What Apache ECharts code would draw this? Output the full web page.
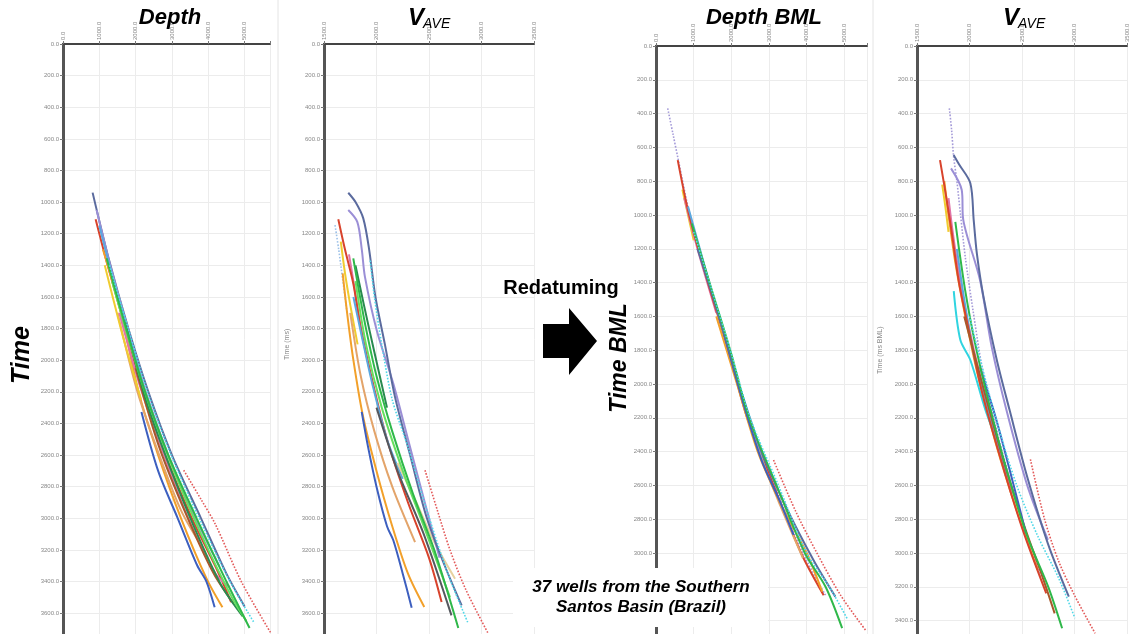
<!DOCTYPE html>
<html>
<head>
<meta charset="utf-8">
<script src="https://cdn.jsdelivr.net/npm/echarts@6/dist/echarts.min.js"></script>
<style>
  html, body { margin: 0; padding: 0; background: #fff; }
  #chart { width: 1137px; height: 634px; }
</style>
</head>
<body>
<div id="chart"></div>
<script>
// tick values of the four panels
const depthTicks = [0, 1000, 2000, 3000, 4000, 5000];
const vaveTicks = [1500, 2000, 2500, 3000, 3500];

// panel 1 : depth (m) vs time (ms)
const depthCurves = [
    ['A', [[815, 940], [1250, 1350], [1800, 1800], [2350, 2200], [3000, 2600], [3800, 3000], [4500, 3350], [5000, 3557]]],
    ['B', [[925, 1050], [1300, 1400], [1780, 1800], [2280, 2200], [2900, 2600], [3650, 3000], [4300, 3300]]],
    ['D', [[898, 1108], [1230, 1400], [1720, 1800], [2200, 2200], [2820, 2600], [3550, 3000], [4250, 3330], [4630, 3530]]],
    ['G', [[1100, 1300], [1600, 1700], [2080, 2200], [2620, 2600], [3250, 3000], [3950, 3380], [4390, 3563]]],
    ['J', [[1500, 1700], [2050, 2200], [2650, 2600], [3250, 2950], [3745, 3150]]],
    ['L', [[1150, 1400], [1650, 1850], [2150, 2250]]],
    ['O', [[1000, 1150], [1450, 1550], [1950, 1950], [2450, 2350], [2900, 2650]]],
    ['M', [[1550, 1700], [2100, 2150], [2750, 2580], [3450, 3000], [4200, 3350], [4590, 3435]]],
    ['S', [[2000, 2050], [2650, 2550], [3400, 2980], [4150, 3350], [4700, 3540]]],
    ['N', [[1700, 1750], [2280, 2250], [2900, 2650], [3600, 3050], [4350, 3420], [4950, 3620]]],
    ['R', [[1350, 1500], [1850, 1900], [2400, 2300], [3050, 2700], [3800, 3100], [4650, 3500], [5050, 3650]]],
    ['E', [[1200, 1355], [1740, 1800], [2260, 2200], [2900, 2600], [3680, 3000], [4500, 3400], [5137, 3694]]],
    ['F', [[1280, 1400], [1800, 1800], [2330, 2200], [2980, 2600], [3750, 3000], [4600, 3400], [5275, 3665]]],
    ['H', [[2160, 2327], [2620, 2700], [3160, 3000], [3700, 3300], [3950, 3400], [4176, 3563]]],
    ['I', [[3324, 2696], [3800, 2880], [4200, 3040], [4910, 3400], [5730, 3728]]]
];

// panel 2 : average velocity (m/s) vs time (ms)
const vaveCurves = [
    ['K', [[1605, 1146], [1640, 1300], [1680, 1500], [1720, 1700]]],
    ['L', [[1660, 1250], [1700, 1450], [1750, 1650], [1820, 1900]]],
    ['G', [[1678, 1451], [1720, 1700], [1780, 2000], [1870, 2350], [2000, 2700], [2150, 3050], [2300, 3350], [2455, 3561]]],
    ['J', [[1750, 1700], [1850, 2100], [1980, 2450], [2150, 2800], [2367, 3150]]],
    ['M', [[1738, 1331], [1780, 1500], [1840, 1750], [1930, 2050]]],
    ['D', [[1636, 1108], [1700, 1300], [1779, 1515], [1850, 1800], [1950, 2100], [2100, 2500], [2300, 2900], [2500, 3250], [2620, 3530]]],
    ['O', [[1780, 1600], [1860, 1850], [1960, 2150], [2100, 2500], [2250, 2750]]],
    ['N', [[1800, 1400], [1880, 1650], [1980, 1950], [2100, 2300]]],
    ['Q', [[2000, 2300], [2200, 2700], [2450, 3100], [2714, 3614]]],
    ['P', [[2200, 2650], [2380, 2900], [2550, 3150], [2748, 3382]]],
    ['R', [[1800, 1500], [1900, 1900], [2050, 2300], [2250, 2700], [2450, 3050], [2700, 3500]]],
    ['E', [[1779, 1356], [1830, 1550], [1900, 1800], [2000, 2100], [2150, 2450], [2350, 2850], [2550, 3200], [2779, 3694]]],
    ['B', [[1731, 1050], [1817, 1125], [1860, 1300], [1890, 1473], [2002, 1810], [2160, 2148], [2300, 2500], [2460, 2900], [2600, 3250]]],
    ['A', [[1731, 941], [1800, 1000], [1874, 1103], [1930, 1300], [1990, 1600], [2080, 1900], [2176, 2232], [2320, 2600], [2480, 3000], [2650, 3300], [2811, 3551]]],
    ['F', [[1940, 1370], [1980, 1600], [2050, 1900], [2150, 2250], [2300, 2550], [2480, 2950], [2680, 3350], [2874, 3666]]],
    ['H', [[1859, 2327], [1920, 2550], [2000, 2800], [2100, 3050], [2160, 3139], [2250, 3350], [2335, 3565]]],
    ['I', [[2462, 2696], [2580, 2950], [2700, 3200], [2850, 3450], [3065, 3730]]]
];

// panel 3 : depth below mudline (m) vs time below mudline (ms)
const depthBmlCurves = [
    ['C', [[311, 369], [450, 520], [593, 675], [900, 1000], [1400, 1400], [1950, 1800], [2450, 2200], [3150, 2600], [3900, 3000], [4500, 3250]]],
    ['L', [[700, 850], [800, 950], [1000, 1150]]],
    ['M', [[750, 900], [1100, 1200], [1600, 1580]]],
    ['D', [[577, 675], [880, 1000], [1380, 1400], [1920, 1800], [2420, 2200], [3120, 2600], [3850, 3000], [4450, 3250]]],
    ['O', [[850, 950], [1350, 1350], [1900, 1780], [2400, 2150], [2900, 2500]]],
    ['J', [[2100, 1950], [2700, 2380], [3300, 2720], [3900, 3030]]],
    ['G', [[1600, 1600], [2150, 2000], [2700, 2400], [3400, 2750], [4000, 3000], [4410, 3229]]],
    ['H', [[1800, 1700], [2300, 2100], [2800, 2450], [3300, 2700], [3650, 2893]]],
    ['A', [[1100, 1200], [1600, 1550], [2200, 2000], [2800, 2400], [3500, 2750], [4200, 3050], [4760, 3258]]],
    ['E', [[950, 1050], [1420, 1400], [1970, 1800], [2470, 2200], [3200, 2600], [3950, 3000], [4500, 3200], [4940, 3445]]],
    ['F', [[1000, 1100], [1450, 1420], [2000, 1820], [2500, 2200], [3250, 2600], [4000, 3000], [4600, 3200], [5070, 3387]]],
    ['I', [[3120, 2450], [3700, 2750], [4270, 3000], [4900, 3250], [5560, 3456]]]
];

// panel 4 : average velocity below mudline (m/s) vs time below mudline (ms)
const vaveBmlCurves = [
    ['C', [[1808, 369], [1830, 500], [1849, 655], [1880, 800], [1913, 990], [1960, 1250], [2030, 1550], [2120, 1900], [2250, 2250], [2400, 2600], [2550, 2900], [2680, 3150]]],
    ['L', [[1740, 820], [1770, 950], [1800, 1100]]],
    ['G', [[1760, 800], [1800, 1000], [1870, 1300], [1960, 1600], [2080, 1950], [2250, 2350], [2450, 2750], [2650, 3100]]],
    ['M', [[1800, 900], [1840, 1100], [1900, 1350], [1990, 1650], [2100, 1950], [2250, 2300], [2400, 2650]]],
    ['T', [[1850, 1450], [1913, 1740], [2008, 1858], [2150, 2150], [2300, 2400]]],
    ['O', [[1880, 1200], [1950, 1500], [2050, 1850], [2200, 2200], [2350, 2550]]],
    ['D', [[1719, 675], [1780, 900], [1830, 1100], [1900, 1400], [2000, 1700], [2120, 2050], [2300, 2450], [2500, 2850], [2731, 3239]]],
    ['S', [[1950, 1600], [2100, 1950], [2300, 2400], [2500, 2800], [2700, 3150], [2811, 3357]]],
    ['H', [[2100, 1900], [2250, 2200], [2400, 2550], [2538, 2883]]],
    ['E', [[1865, 1040], [1900, 1200], [1960, 1450], [2050, 1750], [2180, 2100], [2350, 2500], [2550, 2900], [2750, 3200], [2882, 3445]]],
    ['B', [[1824, 724], [1926, 852], [1941, 1030], [2100, 1385], [2211, 1779], [2350, 2150], [2550, 2600], [2747, 2923]]],
    ['A', [[1849, 645], [1900, 700], [2008, 812], [2040, 1030], [2070, 1227], [2133, 1483], [2260, 1858], [2380, 2150], [2550, 2550], [2750, 2950], [2946, 3258]]],
    ['F', [[2000, 1600], [2100, 1850], [2250, 2200], [2450, 2600], [2650, 2900], [2850, 3150], [3004, 3386]]],
    ['I', [[2580, 2446], [2715, 2800], [2850, 3050], [3000, 3250], [3196, 3475]]]
];

// line look of each well
const wellStyle = {
    A: {color: '#5b6b9e', type: 'solid'},
    B: {color: '#9b8fd6', type: 'solid'},
    C: {color: '#a49ad8', type: 'dotted'},
    D: {color: '#d8432c', type: 'solid'},
    E: {color: '#2fb84a', type: 'solid'},
    F: {color: '#50d8e8', type: 'dotted'},
    G: {color: '#f2a02a', type: 'solid'},
    H: {color: '#3d5fbf', type: 'solid'},
    I: {color: '#e35a5a', type: 'dotted'},
    J: {color: '#e3a46a', type: 'solid'},
    K: {color: '#9cc0e8', type: 'dotted'},
    L: {color: '#f0cc30', type: 'solid'},
    M: {color: '#e074a8', type: 'solid'},
    N: {color: '#2a8a50', type: 'solid'},
    O: {color: '#5aa8e0', type: 'solid'},
    P: {color: '#e6d2a0', type: 'solid'},
    Q: {color: '#55585e', type: 'solid'},
    R: {color: '#66e060', type: 'solid'},
    S: {color: '#a8582c', type: 'solid'},
    T: {color: '#30d4e0', type: 'solid'}
};

const FONT = 'Liberation Sans, Arial, sans-serif';

function xAxisFor(idx, min, max, step) {
    return {
        type: 'value', gridIndex: idx, position: 'top', min: min, max: max, interval: step,
        axisLine: {show: true, lineStyle: {color: '#444', width: 2}},
        axisTick: {show: true, length: 3, lineStyle: {color: '#777'}},
        axisLabel: {
            rotate: 90, fontSize: 6, color: '#888', margin: 4, fontFamily: FONT,
            formatter: v => (v - min) % step === 0 ? v.toFixed(1) : ''
        },
        splitLine: {show: true, lineStyle: {color: '#ececec'}}
    };
}

function yAxisFor(idx, max, name) {
    return {
        type: 'value', gridIndex: idx, inverse: true, min: 0, max: max, interval: 200,
        name: name, nameLocation: 'middle', nameGap: 33,
        nameTextStyle: {fontSize: 7, color: '#888', fontFamily: FONT},
        axisLine: {show: true, lineStyle: {color: '#555', width: 3}},
        axisTick: {show: true, length: 3, lineStyle: {color: '#777'}},
        axisLabel: {fontSize: 6, color: '#888', margin: 4, fontFamily: FONT, formatter: v => v.toFixed(1)},
        splitLine: {show: true, lineStyle: {color: '#ececec'}}
    };
}

function seriesFor(curves, idx) {
    return curves.map(([well, pts]) => ({
        type: 'line', name: well, xAxisIndex: idx, yAxisIndex: idx,
        data: pts, showSymbol: false, smooth: 0.3, silent: true,
        lineStyle: {
            color: wellStyle[well].color, type: wellStyle[well].type,
            width: wellStyle[well].type === 'dotted' ? 1.6 : 2
        }
    }));
}

const chart = echarts.init(document.getElementById('chart'));
chart.setOption({
    backgroundColor: '#ffffff',
    animation: false,
    grid: [
        {left: 63, top: 44, width: 207, height: 600.8, outerBoundsMode: 'none', containLabel: false},
        {left: 324, top: 44, width: 210, height: 600.8, outerBoundsMode: 'none', containLabel: false},
        {left: 656, top: 46, width: 211, height: 608.4, outerBoundsMode: 'none', containLabel: false},
        {left: 917, top: 46, width: 210, height: 608.4, outerBoundsMode: 'none', containLabel: false}
    ],
    xAxis: [
        xAxisFor(0, depthTicks[0], 5700, 1000),
        xAxisFor(1, vaveTicks[0], vaveTicks[vaveTicks.length - 1], 500),
        xAxisFor(2, depthTicks[0], 5600, 1000),
        xAxisFor(3, vaveTicks[0], vaveTicks[vaveTicks.length - 1], 500)
    ],
    yAxis: [
        yAxisFor(0, 3800, ''),
        yAxisFor(1, 3800, 'Time (ms)'),
        yAxisFor(2, 3600, ''),
        yAxisFor(3, 3600, 'Time (ms BML)')
    ],
    series: [].concat(
        seriesFor(depthCurves, 0),
        seriesFor(vaveCurves, 1),
        seriesFor(depthBmlCurves, 2),
        seriesFor(vaveBmlCurves, 3)
    ),
    graphic: [
        // faint borders of the pasted panels
        {type: 'line', shape: {x1: 278, y1: 0, x2: 278, y2: 634}, style: {stroke: '#e4e4e4', lineWidth: 1}, z: 1},
        {type: 'line', shape: {x1: 873, y1: 0, x2: 873, y2: 634}, style: {stroke: '#e4e4e4', lineWidth: 1}, z: 1},
        // panel titles
        {type: 'text', x: 170, y: 18, z: 100, style: {text: 'Depth', font: 'italic bold 22px ' + FONT, fill: '#000', align: 'center', verticalAlign: 'middle'}},
        {type: 'text', x: 408, y: 18, z: 100, style: {text: 'V', font: 'italic bold 24px ' + FONT, fill: '#000', align: 'left', verticalAlign: 'middle'}},
        {type: 'text', x: 423, y: 24, z: 100, style: {text: 'AVE', font: 'italic 14px ' + FONT, fill: '#000', align: 'left', verticalAlign: 'middle'}},
        {type: 'text', x: 764, y: 18, z: 100, style: {text: 'Depth BML', font: 'italic bold 22px ' + FONT, fill: '#000', align: 'center', verticalAlign: 'middle'}},
        {type: 'text', x: 1003, y: 18, z: 100, style: {text: 'V', font: 'italic bold 24px ' + FONT, fill: '#000', align: 'left', verticalAlign: 'middle'}},
        {type: 'text', x: 1018, y: 24, z: 100, style: {text: 'AVE', font: 'italic 14px ' + FONT, fill: '#000', align: 'left', verticalAlign: 'middle'}},
        // big axis names
        {type: 'text', x: 22, y: 355, rotation: Math.PI / 2, z: 100, style: {text: 'Time', font: 'italic bold 25px ' + FONT, fill: '#000', align: 'center', verticalAlign: 'middle'}},
        {type: 'text', x: 620, y: 358, rotation: Math.PI / 2, z: 100, style: {text: 'Time BML', font: 'italic bold 23px ' + FONT, fill: '#000', align: 'center', verticalAlign: 'middle'}},
        // redatuming arrow
        {type: 'text', x: 561, y: 288, z: 100, style: {text: 'Redatuming', font: 'bold 20px ' + FONT, fill: '#000', align: 'center', verticalAlign: 'middle'}},
        {type: 'polygon', z: 100, shape: {points: [[543, 324], [569, 324], [569, 308], [597, 341], [569, 375], [569, 358], [543, 358]]}, style: {fill: '#000'}},
        // caption box
        {type: 'rect', z: 99, shape: {x: 513, y: 568, width: 255, height: 59}, style: {fill: '#fff'}},
        {type: 'text', x: 641, y: 587, z: 100, style: {text: '37 wells from the Southern', font: 'italic bold 17px ' + FONT, fill: '#000', align: 'center', verticalAlign: 'middle'}},
        {type: 'text', x: 641, y: 607, z: 100, style: {text: 'Santos Basin (Brazil)', font: 'italic bold 17px ' + FONT, fill: '#000', align: 'center', verticalAlign: 'middle'}}
    ]
});
</script>
</body>
</html>
